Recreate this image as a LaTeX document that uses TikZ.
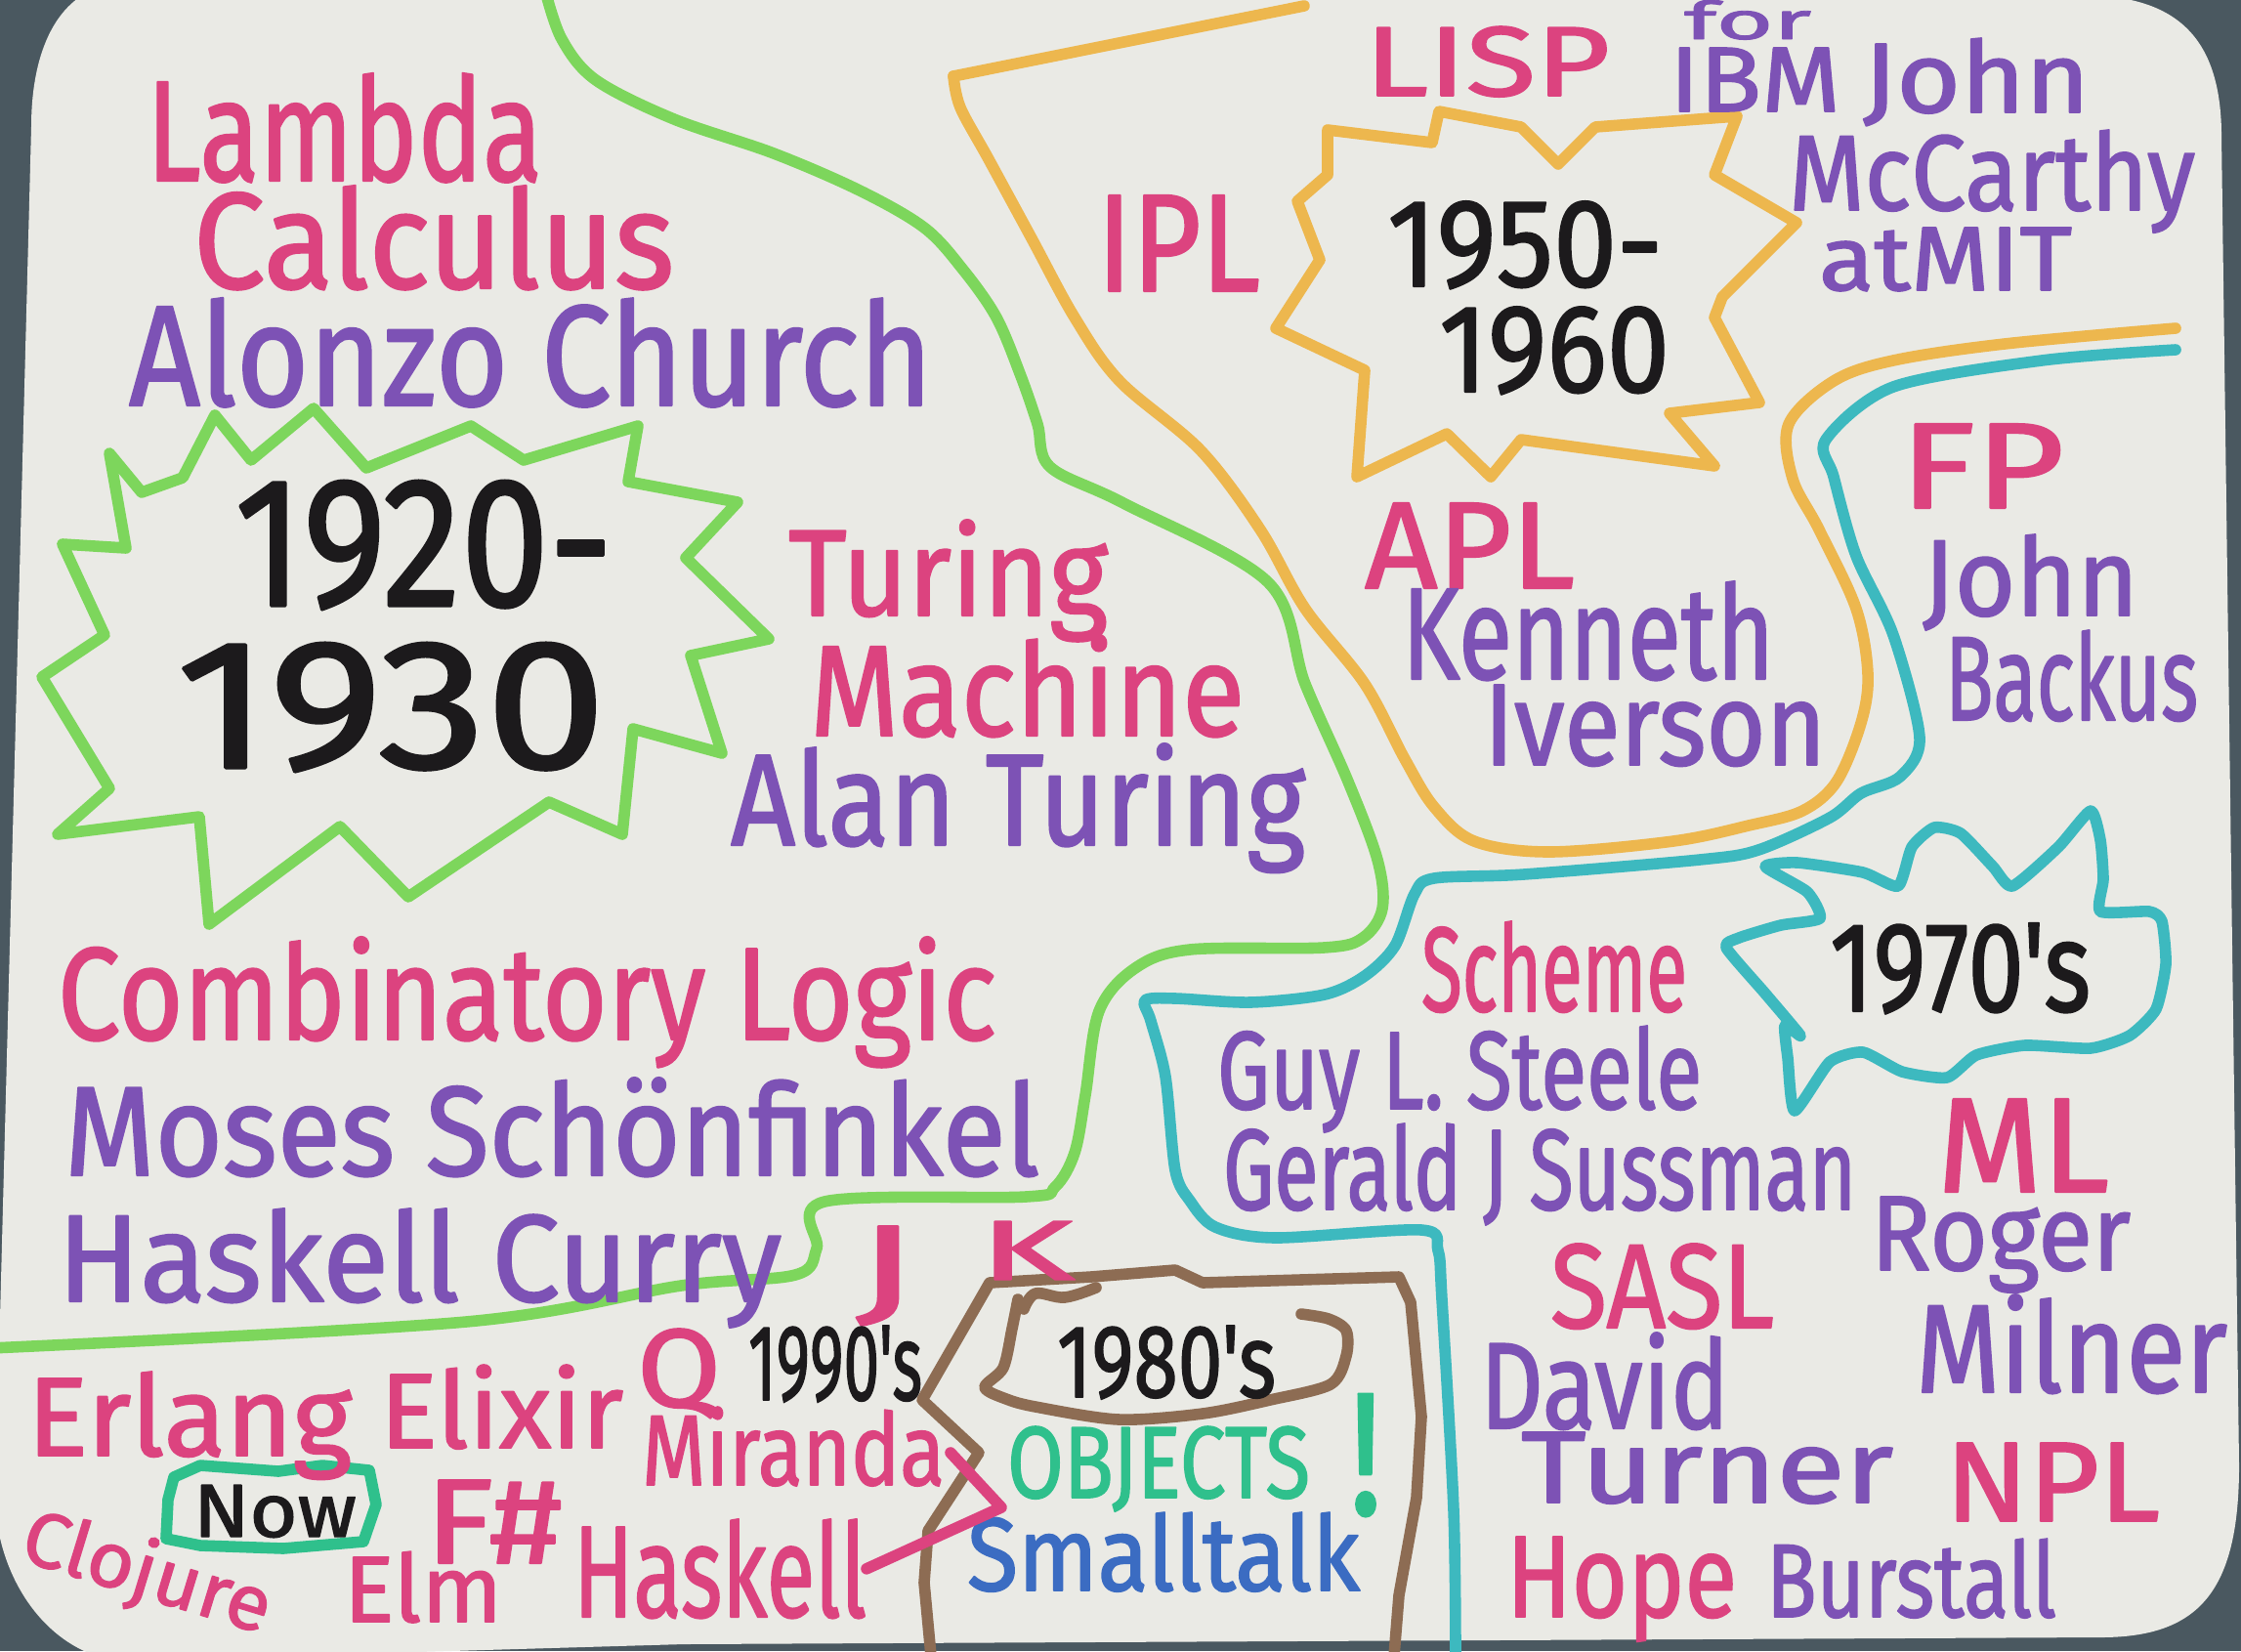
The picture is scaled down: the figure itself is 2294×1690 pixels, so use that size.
\documentclass[tikz,border=0pt]{standalone}
\usepackage{fontspec}
\setmainfont{Fira Sans}
\newfontfamily\markerfont{Fira Sans}[FakeBold=1.6]
\usepackage{graphicx}
\usetikzlibrary{calc}

\definecolor{backdrop}{HTML}{4A5860}
\definecolor{board}{HTML}{EAEAE5}
\definecolor{inkpink}{HTML}{DC437F}
\definecolor{inkpurple}{HTML}{7D52B5}
\definecolor{inkblack}{HTML}{1C1A1C}
\definecolor{inkgreen}{HTML}{7DD65C}
\definecolor{inkyellow}{HTML}{EDB74E}
\definecolor{inkteal}{HTML}{3DB9BF}
\definecolor{inkbrown}{HTML}{8D6C53}
\definecolor{inkmint}{HTML}{2FC08C}
\definecolor{inkblue}{HTML}{3B6CC2}

% one drawing unit = 0.1 mm
\newlength\pxu
\setlength\pxu{0.1mm}
% marker lettering squeezed into a given width and height (in drawing units)
\newcommand\mtext[3]{\resizebox{#1\pxu}{#2\pxu}{#3}}

\begin{document}
\begin{tikzpicture}[x=0.1mm,y=-0.1mm,line cap=round,line join=round,
  marker/.style={line width=3.3pt},
  lbl/.style={inner sep=0pt,outer sep=0pt,anchor=base west,font=\markerfont},
  pk/.style={lbl,text=inkpink},
  pu/.style={lbl,text=inkpurple},
  bk/.style={lbl,text=inkblack}]

% table behind the board
\fill[backdrop] (0,0) rectangle (2294,1690);
\useasboundingbox (0,0) rectangle (2294,1690);

% the whiteboard
\fill[board] (32,130) .. controls (32,50) and (60,-5) .. (110,-15)
  -- (2130,-5) .. controls (2230,-5) and (2274,40) .. (2274,140)
  -- (2292,1500) .. controls (2292,1630) and (2250,1676) .. (2150,1676)
  -- (700,1683) -- (120,1700) .. controls (50,1690) and (0,1620) .. (-5,1540) -- cycle;

% ---------- era boundaries ----------
% green: 1920-1930
\draw[marker,inkgreen] plot[smooth,tension=0.55] coordinates {
  (558,-10) (575,40) (610,82) (690,122) (792,157) (880,195) (946,233) (985,275)
  (1020,325) (1045,385) (1062,434) (1075,478) (1150,515) (1298,596) (1336,700)
  (1380,800) (1410,880) (1415,930) (1395,960) (1355,970) (1218,972) (1162,991)
  (1125,1035) (1111,1121) (1100,1180) (1080,1215) (1050,1225) (844,1230)
  (836,1278) (814,1305) (697,1316) (477,1353) (-10,1380)};

% yellow: 1950-1960
\draw[marker,inkyellow] (1335,6) -- (976,78);
\draw[marker,inkyellow] plot[smooth,tension=0.55] coordinates {
  (976,78) (983,110) (1012,163) (1056,244) (1100,325) (1146,390) (1229,461)
  (1290,542) (1336,623) (1397,700) (1438,777) (1468,826) (1509,861) (1586,872)
  (1713,861) (1790,845) (1845,830) (1880,800) (1905,740) (1912,690) (1900,623)
  (1862,542) (1835,490) (1831,434) (1877,390) (1938,369) (2052,352) (2227,336)};

% teal: 1970s
\draw[marker,inkteal] plot[smooth,tension=0.5] coordinates {
  (2227,358) (2090,369) (1938,396) (1869,450) (1877,488) (1900,569) (1938,650)
  (1965,755) (1945,795) (1905,812) (1873,837) (1800,870) (1740,880) (1560,895)
  (1468,899) (1448,915) (1428,968) (1397,999) (1356,1018) (1280,1026)
  (1203,1022) (1172,1024) (1178,1045) (1193,1102) (1203,1198) (1218,1229)
  (1244,1256) (1305,1267) (1455,1259) (1472,1280) (1476,1330) (1488,1546)
  (1490,1700)};

% ---------- decade bursts ----------
\draw[marker,inkgreen] (112,464) -- (145,504) -- (187,489) -- (220,425) -- (257,471)
  -- (321,418) -- (375,479) -- (482,436) -- (536,471) -- (653,436) -- (643,493)
  -- (755,514) -- (702,571) -- (787,654) -- (707,671) -- (739,771) -- (648,746)
  -- (637,854) -- (562,821) -- (418,918) -- (348,846) -- (214,946) -- (204,836)
  -- (59,854) -- (112,807) -- (43,693) -- (107,650) -- (64,557) -- (129,561) -- cycle;

\draw[marker,inkyellow] (1359,133) -- (1466,146) -- (1473,114) -- (1557,130)
  -- (1595,168) -- (1633,130) -- (1778,119) -- (1755,179) -- (1839,228)
  -- (1763,304) -- (1755,325) -- (1801,412) -- (1709,423) -- (1755,477)
  -- (1557,450) -- (1526,488) -- (1481,444) -- (1389,488) -- (1397,379)
  -- (1306,336) -- (1351,266) -- (1328,206) -- (1359,179) -- cycle;

\draw[marker,inkteal] plot[smooth cycle,tension=0.35] coordinates {
  (1807,887) (1840,883) (1907,893) (1943,907) (1957,867) (1980,847) (2007,853)
  (2040,887) (2060,907) (2107,867) (2140,830) (2150,860) (2153,900) (2150,933)
  (2200,933) (2213,943) (2217,987) (2207,1033) (2180,1060) (2140,1073)
  (2073,1070) (2023,1080) (1993,1103) (1947,1097) (1907,1077) (1873,1087)
  (1837,1137) (1830,1083) (1827,1050) (1843,1060) (1807,1017) (1767,970)
  (1780,960) (1823,947) (1863,940) (1850,913)};

% ---------- 1980s block ----------
\draw[marker,inkbrown] (953,1695) -- (946,1620) -- (950,1567) -- (1002,1487)
  -- (944,1433) -- (1013,1313) -- (1117,1307) -- (1203,1300) -- (1231,1313)
  -- (1432,1307) -- (1444,1333) -- (1455,1450) -- (1450,1533) -- (1432,1633)
  -- (1427,1695);
\draw[marker,inkbrown] plot[smooth,tension=0.5] coordinates {
  (1042,1330) (1036,1360) (1027,1400) (1008,1420) (1030,1432) (1060,1440)
  (1145,1453) (1231,1447) (1300,1433) (1362,1417) (1378,1388) (1378,1362)
  (1360,1350) (1332,1345)};
\draw[marker,inkbrown] plot[smooth,tension=0.6] coordinates {
  (1048,1340) (1060,1324) (1090,1328) (1122,1318)};

% "Now" tag
\draw[marker,inkmint] (178,1512) -- (205,1500) -- (285,1506) -- (330,1500)
  -- (378,1505) -- (385,1540) -- (372,1578) -- (290,1585) -- (205,1582)
  -- (170,1575) -- (172,1535) -- cycle;

% ---------- lettering ----------
% 1920-1930
\node[pk] (lambda) at (150,185) {\mtext{405}{110}{Lambda}};
\node[pk] (calculus) at (198,295) {\mtext{492}{105}{Calculus}};
\node[pu] (church) at (132,415) {\mtext{822}{110}{Alonzo Church}};
\node[bk] (y1920) at (240,620) {\mtext{387}{128}{1920-}};
\node[bk] (y1930) at (180,786) {\mtext{440}{128}{1930}};
\node[pk] (turing) at (807,630) {\mtext{327}{98}{Turing}};
\node[pk] (machine) at (829,753) {\mtext{445}{103}{Machine}};
\node[pu] (alanturing) at (748,865) {\mtext{588}{104}{Alan Turing}};
\node[pk] (combinatory) at (59,1064) {\mtext{961}{105}{Combinatory Logic}};
\node[pu] (schonfinkel) at (66,1203) {\mtext{998}{100}{Moses Schönfinkel}};
\node[pu] (curry) at (59,1332) {\mtext{741}{95}{Haskell Curry}};

% 1990s and now
\node[pk] (jlang) at (876,1340) {\mtext{62}{85}{J}};
\node[pk] (klang) at (1002,1310) {\mtext{98}{60}{K}};
\node[pk] (erlang) at (28,1490) {\mtext{332}{86}{Erlang}};
\node[pk] (elixir) at (389,1482) {\mtext{249}{85}{Elixir}};
\node[pk] (qlang) at (652,1440) {\mtext{86}{80}{Q}};
\node[bk] (y1990) at (766,1433) {\mtext{178}{76}{1990's}};
\node[pk] (miranda) at (657,1520) {\mtext{310}{80}{Miranda}};
\node[bk] (now) at (198,1573) {\mtext{167}{53}{Now}};
\node[pk] (fsharp) at (435,1600) {\mtext{140}{85}{F\#}};
\node[pk,rotate=-17] (clojure) at (18,1596) {\mtext{262}{62}{Clojure}};
\node[pk] (elm) at (352,1660) {\mtext{162}{72}{Elm}};
\node[pk] (haskell) at (587,1655) {\mtext{300}{100}{Haskell}};

% 1980s
\node[bk] (y1980) at (1082,1430) {\mtext{224}{73}{1980's}};
\node[lbl,text=inkmint] (objects) at (1031,1533) {\mtext{310}{73}{OBJECTS}};
\node[lbl,text=inkmint] (bang) at (1381,1550) {\mtext{34}{123}{!}};
\node[lbl,text=inkblue] (smalltalk) at (990,1628) {\mtext{402}{80}{Smalltalk}};

% 1950-1960
\node[pk] (ipl) at (1123,298) {\mtext{167}{98}{IPL}};
\node[pk] (lisp) at (1397,98) {\mtext{251}{71}{LISP}};
\node[pu] (forlbl) at (1724,40) {\mtext{130}{40}{for}};
\node[pu] (ibm) at (1709,114) {\mtext{175}{65}{IBM}};
\node[pu] (john) at (1907,115) {\mtext{232}{76}{John}};
\node[pu] (mccarthy) at (1831,215) {\mtext{416}{82}{McCarthy}};
\node[pu] (atmit) at (1862,297) {\mtext{259}{64}{atMIT}};
\node[bk] (y1950) at (1420,293) {\mtext{282}{87}{1950-}};
\node[bk] (y1960) at (1473,401) {\mtext{236}{87}{1960}};
\node[pk] (apl) at (1397,602) {\mtext{215}{87}{APL}};
\node[pu] (kenneth) at (1435,695) {\mtext{381}{100}{Kenneth}};
\node[pu] (iverson) at (1519,783) {\mtext{350}{82}{Iverson}};

% FP
\node[pk] (fp) at (1945,520) {\mtext{168}{86}{FP}};
\node[pu] (johnb) at (1968,630) {\mtext{221}{83}{John}};
\node[pu] (backus) at (1991,737) {\mtext{259}{92}{Backus}};

% 1970s
\node[bk] (y1970) at (1873,1035) {\mtext{267}{90}{1970's}};
\node[pk] (scheme) at (1455,1035) {\mtext{272}{92}{Scheme}};
\node[pu] (steele) at (1246,1135) {\mtext{496}{85}{Guy L. Steele}};
\node[pu] (sussman) at (1252,1238) {\mtext{648}{88}{Gerald J Sussman}};
\node[pk] (ml) at (1983,1220) {\mtext{176}{95}{ML}};
\node[pu] (roger) at (1915,1300) {\mtext{266}{75}{Roger}};
\node[pu] (milner) at (1961,1425) {\mtext{319}{100}{Milner}};
\node[pk] (sasl) at (1587,1359) {\mtext{229}{86}{SASL}};
\node[pu] (david) at (1515,1462) {\mtext{255}{98}{David}};
\node[pu] (turner) at (1557,1538) {\mtext{381}{72}{Turner}};
\node[pk] (npl) at (1991,1557) {\mtext{220}{80}{NPL}};
\node[pk] (hope) at (1542,1655) {\mtext{236}{82}{Hope}};
\node[pu] (burstall) at (1808,1655) {\mtext{297}{80}{Burstall}};

% pointer from Haskell into the 1980s block
\coordinate (arrtip) at (1025,1543);
\coordinate (arrend) at (973,1487);
\draw[marker,inkpink] (haskell.east) -- (arrtip) -- (arrend);

\end{tikzpicture}
\end{document}
